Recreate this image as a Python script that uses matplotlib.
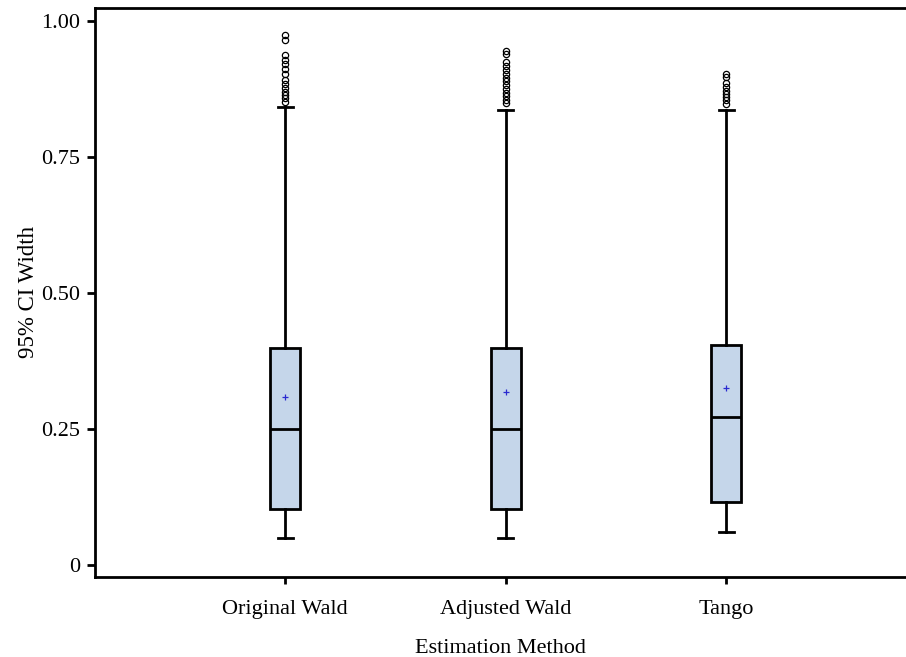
import matplotlib
matplotlib.use('Agg')
import matplotlib.pyplot as plt

plt.rcParams['font.family'] = ['Liberation Serif', 'DejaVu Serif']

methods = ['Original Wald', 'Adjusted Wald', 'Tango']
whis_low = [0.050, 0.050, 0.060]
q1 = [0.102, 0.103, 0.115]
median = [0.250, 0.250, 0.272]
q3 = [0.398, 0.398, 0.405]
whis_high = [0.842, 0.836, 0.836]
mean = [0.308, 0.318, 0.325]
outliers = [
    [0.974, 0.965, 0.937, 0.928, 0.920, 0.911, 0.903, 0.891, 0.884, 0.877, 0.870, 0.864, 0.858, 0.851],
    [0.945, 0.940, 0.925, 0.918, 0.910, 0.903, 0.896, 0.890, 0.882, 0.875, 0.868, 0.862, 0.855, 0.850],
    [0.902, 0.897, 0.886, 0.879, 0.872, 0.866, 0.860, 0.854, 0.848],
]

stats = []
for i, m in enumerate(methods):
    stats.append({'label': m, 'whislo': whis_low[i], 'q1': q1[i], 'med': median[i],
                  'q3': q3[i], 'whishi': whis_high[i], 'mean': mean[i], 'fliers': outliers[i]})

fig = plt.figure(figsize=(9.06, 6.57), dpi=100)
ax = fig.add_axes([0.105, 0.122, 0.895, 0.866])

pos = [1, 2, 3]
ax.bxp(stats, positions=pos, widths=0.136, patch_artist=True, showmeans=True,
       boxprops=dict(facecolor='#c5d6ea', edgecolor='black', linewidth=2),
       medianprops=dict(color='black', linewidth=2),
       whiskerprops=dict(color='black', linewidth=2),
       capprops=dict(color='black', linewidth=2),
       meanprops=dict(marker='+', markeredgecolor='#2a2ad0', markersize=5, markeredgewidth=0.9),
       flierprops=dict(marker='o', markerfacecolor='none', markeredgecolor='black',
                       markersize=4.5, markeredgewidth=0.9))

ax.set_xlim(0.138, 3.816)
ax.set_ylim(-0.022, 1.024)
ax.set_yticks([0, 0.25, 0.5, 0.75, 1.0])
ax.set_yticklabels(['0', '0.25', '0.50', '0.75', '1.00'])
ax.set_xticks(pos)
ax.set_xticklabels(methods)
ax.tick_params(direction='out', width=2, length=6, labelsize=16, pad=5)
ax.tick_params(axis='x', length=5, pad=12)
for s in ['top', 'bottom', 'left']:
    ax.spines[s].set_linewidth(2)
ax.spines['right'].set_visible(False)

ax.set_xlabel('Estimation Method', fontsize=16, labelpad=14)
ax.set_ylabel('95% CI Width', fontsize=16.5, labelpad=1)

fig.savefig('out.png', dpi=100)
